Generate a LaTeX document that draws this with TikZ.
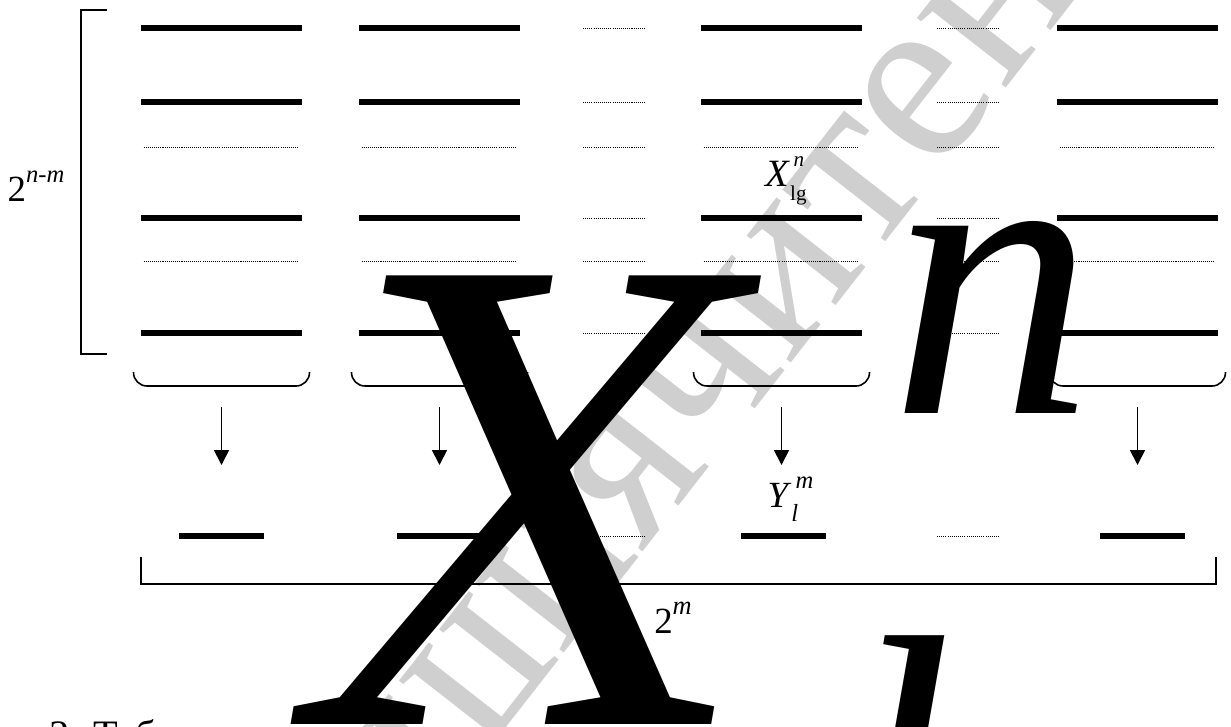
\documentclass[tikz,border=0pt]{standalone}
\usepackage{fontspec}
\setmainfont{Liberation Serif}
\newfontfamily\bigxfont[FakeSlant=0.17, FakeStretch=0.9]{Liberation Serif}
\usetikzlibrary{arrows.meta, positioning, calc}

% base with superscript and subscript, set in text italics
\newcommand{\supsub}[4]{#1\rlap{\raisebox{0.5em}{\fontsize{#4}{#4}\selectfont\itshape #2}}\raisebox{-0.38em}{\fontsize{#4}{#4}\selectfont #3}}

\begin{document}
\begin{tikzpicture}[
    x=0.02cm, y=-0.02cm,
    bar/.style={line width=3.1pt},
    dots/.style={line width=0.55pt, dash pattern=on 0.6pt off 0.6pt},
    brack/.style={line width=0.9pt},
    brace/.style={line width=0.9pt, rounded corners=0.27cm},
    arr/.style={-{Triangle[length=8.5pt,width=8.5pt]}, line width=1pt},
    lbl/.style={font=\fontsize{21}{23}\selectfont, inner sep=0pt},
    glyph/.style={inner sep=0pt, anchor=base west}
]
\useasboundingbox (0,0) rectangle (1231,727);
\clip (0,0) rectangle (1231,727);

% ================= WATERMARK =================
\node[inner sep=0pt, rotate=52, text=gray!38, font=\fontsize{140}{140}\selectfont] (wmark) at (720,362) {шиячитен};

% ================= GROUP COLUMNS =================
% thick columns
\foreach \cx in {221.5, 439.5, 781.5, 1137.5} {
    \foreach \ry in {28, 102, 218, 333}
        \draw[bar] (\cx-80.5,\ry) -- (\cx+80.5,\ry);
    \foreach \ry in {147, 261}
        \draw[dots] (\cx-78,\ry) -- (\cx+78,\ry);
    % brace under the group
    \draw[brace] (\cx-88,372) -- (\cx-88,386) -- (\cx+88,386) -- (\cx+88,372);
}
% omitted columns
\foreach \cx in {614, 968} {
    \foreach \ry in {28, 102, 147, 218, 261, 333, 536}
        \draw[dots] (\cx-31,\ry) -- (\cx+31,\ry);
}

% ================= OUTPUT FUNCTIONS =================
\coordinate (brA) at (221.5,407);  \coordinate (outA) at (221.5,465);
\coordinate (brB) at (439.5,407);  \coordinate (outB) at (439.5,465);
\coordinate (brC) at (781.5,407);  \coordinate (outC) at (781.5,465);
\coordinate (brD) at (1137.5,407); \coordinate (outD) at (1137.5,465);

\draw[arr] (brA) -- (outA);
\draw[arr] (brB) -- (outB);
\draw[arr] (brC) -- (outC);
\draw[arr] (brD) -- (outD);

\draw[bar] (179,536) -- (264,536);
\draw[bar] (397,536) -- (482,536);
\draw[bar] (741,536) -- (826,536);
\draw[bar] (1100,536) -- (1185,536);

% ================= BRACKETS =================
\draw[brack] (107,10) -- (81,10) -- (81,354) -- (107,354);
\draw[brack] (141,557) -- (141,584) -- (1216,584) -- (1216,557);

% ================= LABELS =================
\node[lbl] (rows) at (36,186) {2\raisebox{0.5em}{\fontsize{14}{14}\selectfont\itshape n-m}};
\node[lbl, font=\fontsize{22}{24}\selectfont] (xlg) at (786,181) {\supsub{\textit{X}}{\,n}{lg}{12}};
\node[lbl] (ylm) at (783,499) {\supsub{\textit{Y}}{\,m}{\itshape l}{14}};
\node[lbl] (cols) at (673,618) {2\raisebox{0.5em}{\fontsize{15}{15}\selectfont\itshape m}};

% caption, cut by the lower edge
\node[inner sep=0pt, anchor=base west, font=\fontsize{23}{25}\selectfont] (capt) at (-36,748) {Рис. 3. Таблиця};

% ================= LARGE FORMULA =================
\node[glyph, font=\fontsize{390}{390}\bigxfont] (bigX) at (277,724) {X};
\node[glyph, font=\fontsize{232}{232}\selectfont\itshape] (bigN) at (890,413) {n};
\node[glyph, font=\fontsize{232}{232}\selectfont\itshape] (bigL) at (840,918) {l};

\end{tikzpicture}
\end{document}
